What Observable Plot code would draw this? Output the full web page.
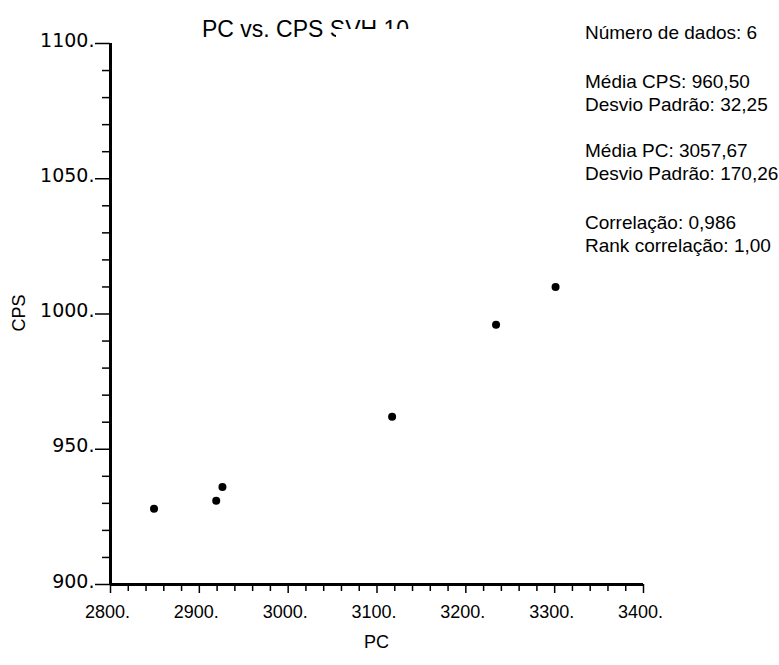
<!DOCTYPE html>
<html>
<head>
<meta charset="utf-8">
<script src="https://cdn.jsdelivr.net/npm/d3@7"></script>
<script src="https://cdn.jsdelivr.net/npm/@observablehq/plot@0.6"></script>
<style>
  html, body { margin: 0; padding: 0; background: #fff; }
  #chart { width: 779px; height: 665px; }
</style>
</head>
<body>
<div id="chart"></div>
<script>
// ---- data ----
const pcValues  = [2849, 2919, 2926, 3117, 3234, 3301];
const cpsValues = [928, 931, 936, 962, 996, 1010];

const xTicks = [2800, 2900, 3000, 3100, 3200, 3300, 3400];
const yTicks = [900, 950, 1000, 1050, 1100];
const xMinorTicks = [2820, 2840, 2860, 2880, 2920, 2940, 2960, 2980, 3020, 3040, 3060, 3080,
                     3120, 3140, 3160, 3180, 3220, 3240, 3260, 3280, 3320, 3340, 3360, 3380];
const yMinorTicks = [910, 920, 930, 940, 960, 970, 980, 990, 1010, 1020, 1030, 1040, 1060, 1070, 1080, 1090];

const titleText = "PC vs. CPS SVH 10";
const xLabel = "PC";
const yLabel = "CPS";
const statsLines = [
  "Número de dados: 6",
  "Média CPS: 960,50",
  "Desvio Padrão: 32,25",
  "Média PC: 3057,67",
  "Desvio Padrão: 170,26",
  "Correlação: 0,986",
  "Rank correlação: 1,00"
];

const points = pcValues.map((pc, i) => ({pc, cps: cpsValues[i]}));
const font = "'Liberation Sans', Arial, Helvetica, sans-serif";
const wideFont = "'DejaVu Sans', 'Liberation Sans', sans-serif";
const fmt = d => d + ".";

const chart = Plot.plot({
  width: 779,
  height: 665,
  marginLeft: 110,
  marginRight: 136,
  marginTop: 43,
  marginBottom: 81,
  x: {domain: [2800, 3400]},
  y: {domain: [900, 1100]},
  style: {fontFamily: font, fontSize: "18px", color: "#000", background: "#fff", overflow: "visible"},
  marks: [
    // ticks
    Plot.axisX(xMinorTicks, {tickSize: 7, strokeWidth: 1.5, tickFormat: () => "", label: null}),
    Plot.axisX(xTicks, {tickSize: 9, strokeWidth: 1.5, tickFormat: () => "", label: null}),
    Plot.axisY(yMinorTicks, {tickSize: 8, strokeWidth: 1.5, tickFormat: () => "", label: null}),
    Plot.axisY(yTicks, {tickSize: 15, strokeWidth: 1.5, tickFormat: () => "", label: null}),
    // tick labels
    Plot.text(xTicks, {x: d => d, text: fmt, frameAnchor: "bottom", lineAnchor: "top",
                       dx: -3, dy: 21, fontSize: 18, fill: "#000"}),
    Plot.text(yTicks, {y: d => d, text: fmt, frameAnchor: "left", textAnchor: "end",
                       lineAnchor: "bottom", dx: -16, dy: 3, fontSize: 19, fontFamily: wideFont, fill: "#000"}),
    // axis lines
    Plot.ruleX([2800], {strokeWidth: 3}),
    Plot.ruleY([900], {strokeWidth: 3}),
    // data
    Plot.dot(points, {x: "pc", y: "cps", r: 4, fill: "#000", stroke: null})
  ]
});

const svg = d3.select(chart);

// title (partly hidden in the original by a white box)
svg.append("text")
  .attr("x", 202).attr("y", 37)
  .attr("text-anchor", "start")
  .attr("font-family", font).attr("font-size", 23).attr("fill", "#000")
  .text(titleText);
svg.append("rect")
  .attr("x", 336).attr("y", 29).attr("width", 86).attr("height", 14)
  .attr("fill", "#fff");

// axis labels
svg.append("text")
  .attr("x", 376.5).attr("y", 648)
  .attr("text-anchor", "middle")
  .attr("font-family", font).attr("font-size", 18).attr("fill", "#000")
  .text(xLabel);
svg.append("text")
  .attr("transform", "translate(25,313) rotate(-90)")
  .attr("text-anchor", "middle")
  .attr("font-family", font).attr("font-size", 18).attr("fill", "#000")
  .text(yLabel);

// statistics block
const statsBaselines = [39, 88, 110.5, 157, 180, 229, 251.5];
svg.append("g")
  .attr("font-family", font).attr("font-size", 19).attr("fill", "#000")
  .attr("text-anchor", "start")
  .selectAll("text")
  .data(statsLines)
  .join("text")
  .attr("x", 585)
  .attr("y", (d, i) => statsBaselines[i])
  .text(d => d);

document.getElementById("chart").appendChild(chart);
</script>
</body>
</html>
